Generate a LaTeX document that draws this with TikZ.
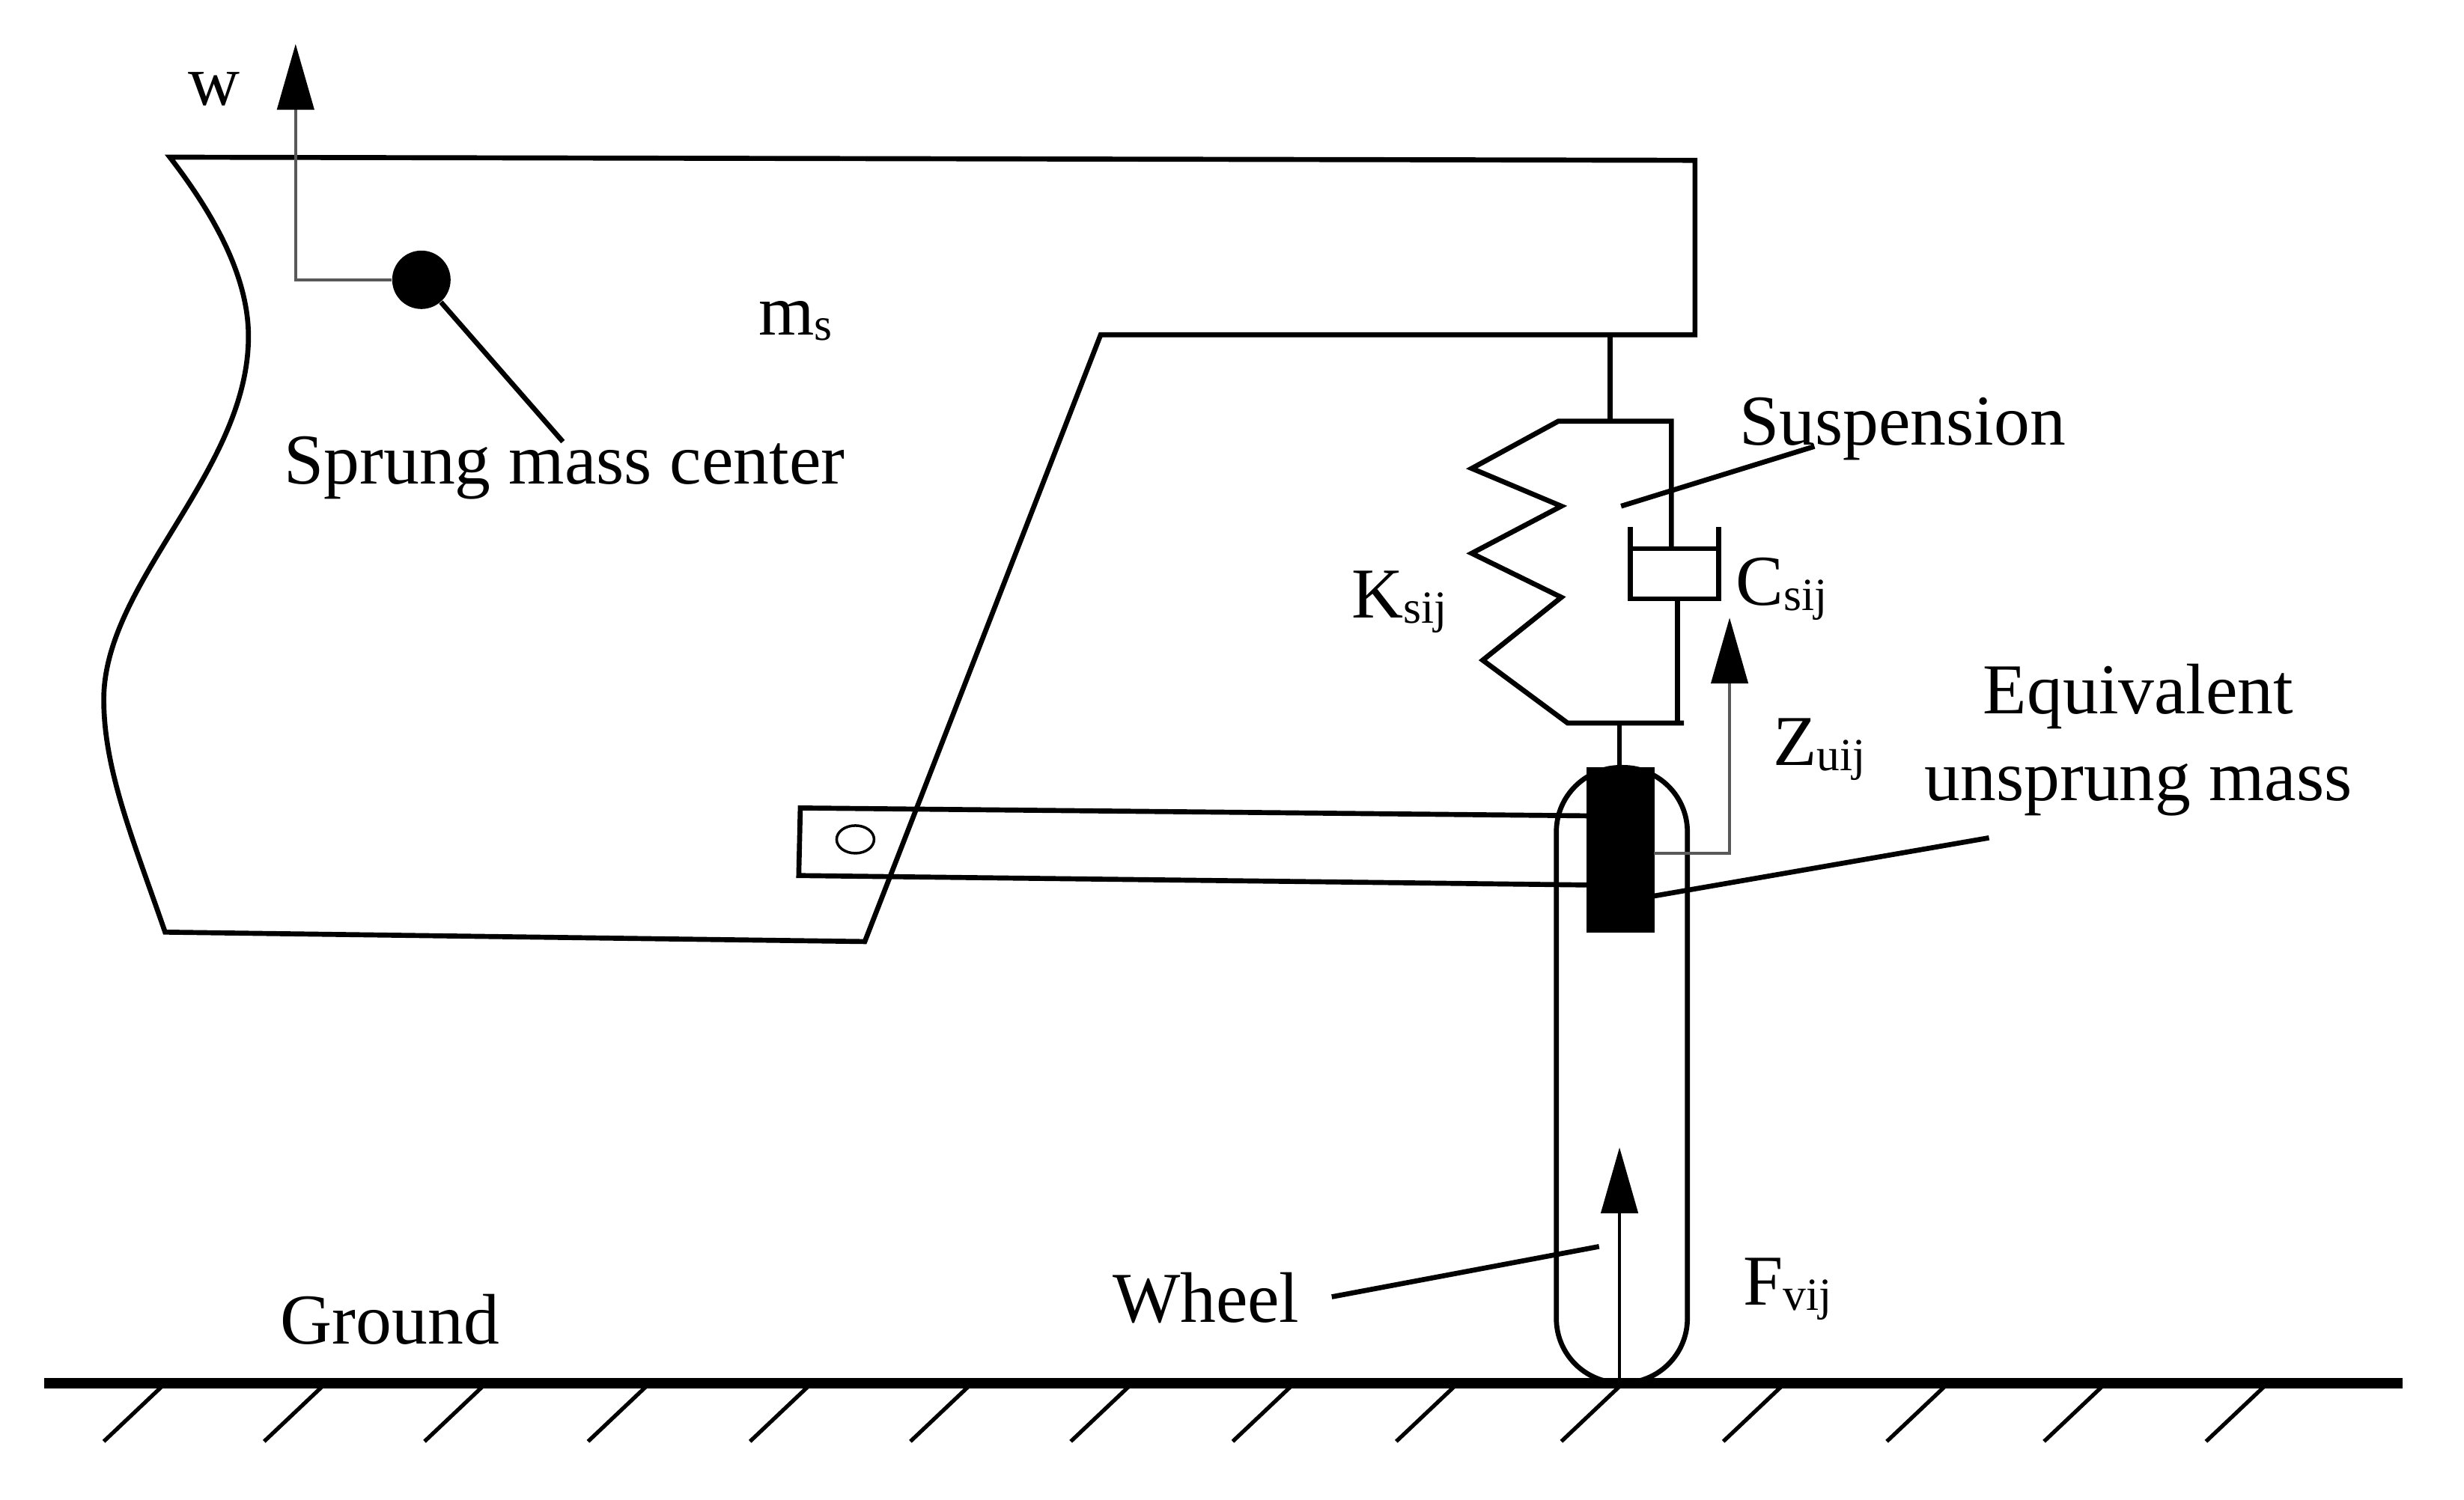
\documentclass[tikz,border=0pt]{standalone}
\usepackage{fontspec}
\setmainfont{Liberation Serif}
\usepackage{tikz}
\usetikzlibrary{shapes.geometric, arrows.meta, positioning, calc}
\tikzset{
    body/.style={line width=1.9pt, line join=miter},
    leader/.style={line width=1.9pt},
    ground/.style={line width=3.8pt},
    hatch/.style={line width=1.5pt},
    force/.style={line width=1.1pt, black!65, -{Triangle[length=25pt, width=14pt, color=black, fill=black]}},
    solid mass/.style={rectangle, fill=black, inner sep=0pt, outer sep=0pt},
    textlab/.style={inner sep=0pt, outer sep=0pt, anchor=base, font=\fontsize{27.2}{33}\selectfont},
    wheelshape/.style={rectangle, draw=black, line width=1.9pt, rounded corners=8.6mm, inner sep=0pt, outer sep=0pt, minimum width=1.75cm, minimum height=8.22cm},
    damper/.style={rectangle, draw=black, line width=1.9pt, inner sep=0pt, outer sep=0pt, minimum width=1.18cm, minimum height=0.67cm}
}
\newcommand{\withsub}[2]{#1{\fontsize{17.5}{20}\selectfont\raisebox{-2pt}{#2}}}

\begin{document}
\begin{tikzpicture}[x=0.021cm, y=-0.021cm]
\useasboundingbox (0,0) rectangle (1567.1,953.8);

% Car body
\draw [body] (108,100) -- (1078,102) -- (1078,213) -- (700,213) -- (550,599) -- (105,593)
    .. controls (85,535) and (66,490) .. (66,445)
    .. controls (66,370) and (158,300) .. (158,214)
    .. controls (158,175) and (135,135) .. (108,100) -- cycle;

% Nodes
\node (cog) [circle, fill=black, inner sep=0pt, minimum size=0.78cm] at (268,178) {};
\node (wheel) [wheelshape] at (1031.5,684) {};
\node (unsprung) [solid mass, minimum width=0.91cm, minimum height=2.21cm] at (1030.5,540.5) {};
\node (cyl) [damper] at (1065,365) {};
\node (pivot) [ellipse, draw=black, line width=1pt, inner sep=0pt, minimum width=0.5cm, minimum height=0.37cm] at (544,534) {};

\coordinate (topmount) at (1024,213);
\coordinate (barmid) at (1024,268);
\coordinate (barleft) at (991,268);
\coordinate (barright) at (1063,268);
\coordinate (lowleft) at (997,460);
\coordinate (lowright) at (1071,460);
\coordinate (lowmid) at (1030,460);
\coordinate (lowrod) at (1067,460);

% Suspension
\draw [body] (topmount) -- (barmid);
\draw [body] (lowright) -- (lowleft) -- (943,420) -- (993,380) -- (936,352) -- (993,322) -- (936,298) -- (barleft) -- (barright) -- (1063,349);
\draw [body] (1037,335) -- (1037,381);
\draw [body] (1093,335) -- (1093,381);
\draw [body] (lowrod) -- (1067,381);
\draw [body] (lowmid) -- (unsprung.north -| lowmid);

% Arm
\coordinate (armtop) at (1009,519);
\coordinate (armlow) at (1009,563);
\draw [body] (armtop) -- (509,514) -- (508,557) -- (armlow);

% Ground
\coordinate (groundleft) at (28,880);
\coordinate (groundright) at (1528,880);
\draw [ground] (groundleft) -- (groundright);
\foreach \hx in {103,205,307,411,514,616,718,821,925,1030,1133,1237,1337,1440}
    \draw [hatch] (\hx,882) -- (\hx-37,917);

% Arrows
\coordinate (wtip) at (188,28);
\draw [force] (cog.west) -| (wtip);
\coordinate (ztip) at (1100,393);
\draw [force] (1052,543) -| (ztip);
\coordinate (ftip) at (1030,730);
\draw [force, black] (wheel.south -| ftip) -- (ftip);

% Labels
\node (cogtext) [textlab] at (359,308) {Sprung mass center};
\node (mstext) [textlab] at (506,213) {\withsub{m}{s}};
\node (wtext) [textlab] at (136,67) {w};
\node (susptext) [textlab] at (1210,283) {Suspension};
\node (ktext) [textlab] at (890,393) {\withsub{K}{sij}};
\node (ctext) [textlab] at (1133,385) {\withsub{C}{sij}};
\node (ztext) [textlab] at (1157,487) {\withsub{Z}{uij}};
\node (eqtext) [textlab, anchor=center, align=center] at (1360,471) {Equivalent\\unsprung mass};
\node (wheeltext) [textlab] at (767,841) {Wheel};
\node (ftext) [textlab] at (1137,830) {\withsub{F}{vij}};
\node (groundtext) [textlab] at (248,855) {Ground};

% Leaders
\coordinate (cogend) at (358,281);
\coordinate (suspstart) at (1154,284);
\coordinate (suspend) at (1031,322);
\coordinate (eqstart) at (1265,533);
\coordinate (eqend) at (1052,570);
\coordinate (wheelstart) at (847,825);
\coordinate (wheelend) at (1017,793);
\draw [leader] (cog) -- (cogend);
\draw [leader] (suspstart) -- (suspend);
\draw [leader] (eqstart) -- (eqend);
\draw [leader] (wheelstart) -- (wheelend);
\end{tikzpicture}
\end{document}
